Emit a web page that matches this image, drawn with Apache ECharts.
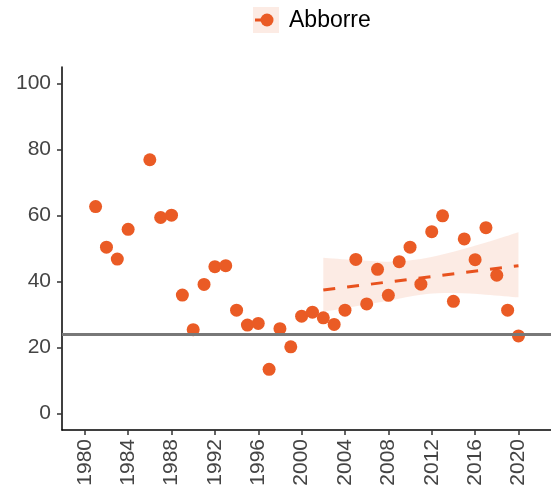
<!DOCTYPE html>
<html>
<head>
<meta charset="utf-8">
<script src="https://cdn.jsdelivr.net/npm/echarts@6/dist/echarts.min.js"></script>
<style>html,body{margin:0;padding:0;background:#fff;}#c{width:551px;height:490px;}</style>
</head>
<body>
<div id="c"></div>
<script>
var years = [1981,1982,1983,1984,1986,1987,1988,1989,1990,1991,1992,1993,1994,1995,1996,1997,1998,1999,2000,2001,2002,2003,2004,2005,2006,2007,2008,2009,2010,2011,2012,2013,2014,2015,2016,2017,2018,2019,2020];
var values = [62.7,50.4,46.8,55.8,76.9,59.4,60.1,35.9,25.4,39.1,44.5,44.8,31.3,26.8,27.3,13.4,25.7,20.2,29.5,30.7,29.0,27.0,31.3,46.7,33.2,43.7,35.8,46.0,50.4,39.2,55.1,59.9,34.0,52.9,46.6,56.3,41.9,31.3,23.5];
var trendYears = [2002, 2020];
var trendValues = [37.4, 44.8];
var bandYears = [2002, 2005, 2008, 2011, 2014, 2017, 2020];
var bandLower = [30.8, 32.5, 34.2, 36.0, 36.5, 36.0, 35.2];
var bandUpper = [47.2, 46.5, 46.0, 46.8, 49.0, 51.8, 54.9];
var refLevel = 24;
var yTicks = [0, 20, 40, 60, 80, 100];
var xTicks = [1980, 1984, 1988, 1992, 1996, 2000, 2004, 2008, 2012, 2016, 2020];
var seriesName = 'Abborre';

var orange = '#EA5B25';
var font = "'Liberation Sans', Arial, sans-serif";

var chart = echarts.init(document.getElementById('c'), null, {renderer: 'canvas'});
var pts = years.map(function (y, i) { return [y, values[i]]; });
var trendData = trendYears.map(function (y, i) { return [y, trendValues[i]]; });

// Catmull-Rom spline through pixel points -> SVG path segment (rendering only)
function splinePath(p, start) {
  var d = start ? 'M' + p[0][0] + ' ' + p[0][1] : 'L' + p[0][0] + ' ' + p[0][1];
  for (var i = 0; i < p.length - 1; i++) {
    var p0 = p[i - 1] || p[i], p1 = p[i], p2 = p[i + 1], p3 = p[i + 2] || p[i + 1];
    var c1x = p1[0] + (p2[0] - p0[0]) / 6, c1y = p1[1] + (p2[1] - p0[1]) / 6;
    var c2x = p2[0] - (p3[0] - p1[0]) / 6, c2y = p2[1] - (p3[1] - p1[1]) / 6;
    d += ' C' + c1x + ' ' + c1y + ' ' + c2x + ' ' + c2y + ' ' + p2[0] + ' ' + p2[1];
  }
  return d;
}

chart.setOption({
  animation: false,
  backgroundColor: '#fff',
  grid: {left: 62, right: 0, top: 67, bottom: 60, containLabel: false},
  xAxis: {
    type: 'value', min: 1977.9, max: 2023,
    splitLine: {show: false},
    axisLine: {show: true, onZero: false, lineStyle: {color: '#000', width: 1.5}},
    axisTick: {show: true, length: 5, lineStyle: {color: '#333', width: 1.5}, customValues: xTicks},
    axisLabel: {customValues: xTicks, rotate: 90, margin: 9, color: '#444', fontSize: 21, fontFamily: font,
      formatter: function (v) { return String(v); }}
  },
  yAxis: {
    type: 'value', min: -5, max: 105,
    splitLine: {show: false},
    axisLine: {show: true, onZero: false, lineStyle: {color: '#000', width: 1.5}},
    axisTick: {show: true, length: 5, lineStyle: {color: '#333', width: 1.5}, customValues: yTicks},
    axisLabel: {customValues: yTicks, margin: 11, color: '#444', fontSize: 21, fontFamily: font,
      formatter: function (v) { return String(v); }}
  },
  series: [
    {type: 'custom', data: [0], silent: true, z: 1,
      renderItem: function (params, api) {
        var up = bandYears.map(function (y, i) { return api.coord([y, bandUpper[i]]); });
        var lo = bandYears.map(function (y, i) { return api.coord([y, bandLower[i]]); }).reverse();
        var d = splinePath(up, true) + ' ' + splinePath(lo, false) + ' Z';
        return {type: 'path', shape: {pathData: d}, style: {fill: 'rgba(234,91,37,0.12)', stroke: null}};
      }},
    {type: 'line', data: [], z: 2,
      markLine: {silent: true, symbol: 'none', label: {show: false},
        lineStyle: {color: '#787878', width: 3, type: 'solid'},
        data: [{yAxis: refLevel}]}},
    {type: 'scatter', name: seriesName, data: pts, symbolSize: 13,
      itemStyle: {color: orange, opacity: 1}, z: 3},
    {type: 'line', data: trendData, symbol: 'none', z: 4,
      lineStyle: {color: '#E8521E', width: 3, type: [12, 12]}}
  ],
  graphic: [
    {type: 'rect', shape: {x: 253, y: 7, width: 26, height: 26}, style: {fill: 'rgba(234,91,37,0.12)'}},
    {type: 'line', shape: {x1: 255, y1: 20, x2: 267, y2: 20}, style: {stroke: '#E8521E', lineWidth: 3}},
    {type: 'circle', shape: {cx: 267, cy: 20, r: 6.5}, style: {fill: orange}},
    {type: 'text', x: 289, y: 21, style: {text: seriesName, fill: '#000', fontSize: 23, fontFamily: font, verticalAlign: 'middle'}}
  ]
});
</script>
</body>
</html>
